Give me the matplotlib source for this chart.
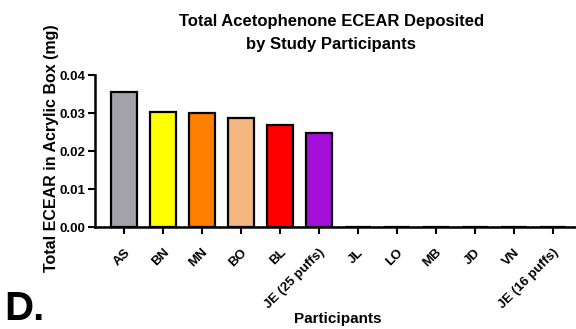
import matplotlib.pyplot as plt

# participants and the acetophenone deposited (mg)
participants = ["AS", "BN", "MN", "BO", "BL", "JE (25 puffs)",
                "JL", "LO", "MB", "JD", "VN", "JE (16 puffs)"]
ecear = [0.0355, 0.0302, 0.0300, 0.0286, 0.0269, 0.0247,
         0, 0, 0, 0, 0, 0]
colors = ["#a3a2a8", "#ffff00", "#ff8000", "#f3b67e", "#ff0000", "#a50ed8",
          "#ffffff", "#ffffff", "#ffffff", "#ffffff", "#ffffff", "#ffffff"]
yticks = [0.00, 0.01, 0.02, 0.03, 0.04]

plt.rcParams['font.family'] = ['Liberation Sans', 'DejaVu Sans']
plt.rcParams['font.weight'] = 'bold'

fig = plt.figure(figsize=(5.76, 3.29), dpi=100)
ax = fig.add_axes([0.165, 0.31, 0.835, 0.462])

x = list(range(len(participants)))
ax.bar(x, ecear, width=0.67, color=colors, edgecolor="black", linewidth=1.6, zorder=2)
ax.axhline(0, color="#555555", linestyle=":", linewidth=1.2, zorder=1)

ax.set_xlim(-0.74, 11.6)
ax.set_ylim(0, 0.04)
ax.set_yticks(yticks)
ax.set_yticklabels(["%.2f" % v for v in yticks], fontsize=9.5, fontweight="bold")
ax.set_xticks(x)
ax.set_xticklabels(participants, rotation=45, ha="right", rotation_mode="anchor",
                   fontsize=9.5, fontweight="bold")

for side in ["top", "right"]:
    ax.spines[side].set_visible(False)
for side in ["left", "bottom"]:
    ax.spines[side].set_linewidth(1.8)
ax.tick_params(direction="out", length=5, width=1.5)
ax.tick_params(axis="x", pad=9)
ax.tick_params(axis="y", pad=2)

fig.text(0.09, 0.55, "Total ECEAR in Acrylic Box (mg)", fontsize=11.5, fontweight="bold",
         rotation=90, ha="center", va="center")
fig.text(0.575, 0.90, "Total Acetophenone ECEAR Deposited\nby Study Participants",
         fontsize=12, fontweight="bold", ha="center", va="center", linespacing=1.7)
fig.text(0.586, 0.03, "Participants", fontsize=11, fontweight="bold", ha="center", va="center")
fig.text(0.008, 0.062, "D.", fontsize=29, fontweight="bold", ha="left", va="center")

fig.savefig("out.png", dpi=100)
